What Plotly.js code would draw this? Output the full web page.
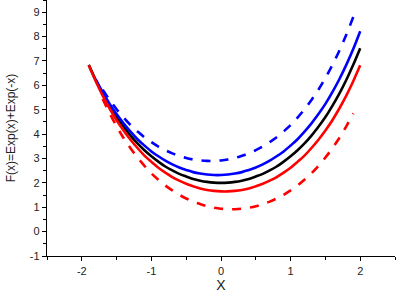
<!DOCTYPE html>
<html>
<head>
<meta charset="utf-8">
<script src="https://cdn.plot.ly/plotly-3.0.1.min.js"></script>
<style>html,body{margin:0;padding:0;background:#fff;}#chart{width:396px;height:293px;}</style>
</head>
<body>
<div id="chart"></div>
<script>
// Black solid: F(x)=Exp(x)+Exp(-x)
const xBlack = [-1.9,-1.8,-1.7,-1.6,-1.5,-1.4,-1.3,-1.2,-1.1,-1.0,-0.9,-0.8,-0.7,-0.6,-0.5,-0.4,-0.3,-0.2,-0.1,0.0,0.1,0.2,0.3,0.4,0.5,0.6,0.7,0.8,0.9,1.0,1.1,1.2,1.3,1.4,1.5,1.6,1.7,1.8,1.9,2.0];
const yBlack = [6.84,6.22,5.66,5.16,4.70,4.30,3.94,3.62,3.34,3.09,2.87,2.67,2.51,2.37,2.26,2.16,2.09,2.04,2.01,2.00,2.01,2.04,2.09,2.16,2.26,2.37,2.51,2.67,2.87,3.09,3.34,3.62,3.94,4.30,4.70,5.16,5.66,6.22,6.84,7.52];
// Red solid
const xRed = [-1.9,-1.8,-1.7,-1.6,-1.5,-1.4,-1.3,-1.2,-1.1,-1.0,-0.9,-0.8,-0.7,-0.6,-0.5,-0.4,-0.3,-0.2,-0.1,0.0,0.1,0.2,0.3,0.4,0.5,0.6,0.7,0.8,0.9,1.0,1.1,1.2,1.3,1.4,1.5,1.6,1.7,1.8,1.9,2.0];
const yRed = [6.82,6.17,5.58,5.05,4.57,4.15,3.77,3.43,3.12,2.86,2.62,2.42,2.24,2.09,1.96,1.86,1.77,1.71,1.67,1.65,1.65,1.67,1.71,1.77,1.86,1.96,2.09,2.24,2.42,2.62,2.86,3.12,3.43,3.77,4.15,4.57,5.05,5.58,6.17,6.82];
// Blue solid
const xBlue = [-1.8,-1.7,-1.6,-1.5,-1.4,-1.3,-1.2,-1.1,-1.0,-0.9,-0.8,-0.7,-0.6,-0.5,-0.4,-0.3,-0.2,-0.1,0.0,0.1,0.2,0.3,0.4,0.5,0.6,0.7,0.8,0.9,1.0,1.1,1.2,1.3,1.4,1.5,1.6,1.7,1.8,1.9,2.0];
const yBlue = [6.25,5.72,5.24,4.82,4.44,4.10,3.79,3.53,3.29,3.09,2.91,2.76,2.63,2.53,2.44,2.38,2.34,2.32,2.32,2.34,2.38,2.44,2.53,2.63,2.76,2.91,3.09,3.29,3.53,3.79,4.10,4.44,4.82,5.24,5.72,6.25,6.84,7.49,8.22];
// Blue dashed
const xBlueDash = [-1.7,-1.6,-1.5,-1.4,-1.3,-1.2,-1.1,-1.0,-0.9,-0.8,-0.7,-0.6,-0.5,-0.4,-0.3,-0.2,-0.1,0.0,0.1,0.2,0.3,0.4,0.5,0.6,0.7,0.8,0.9,1.0,1.1,1.2,1.3,1.4,1.5,1.6,1.7,1.8,1.9];
const yBlueDash = [5.82,5.40,5.02,4.68,4.37,4.11,3.87,3.67,3.49,3.34,3.21,3.11,3.02,2.96,2.92,2.90,2.90,2.92,2.96,3.02,3.11,3.21,3.34,3.49,3.67,3.87,4.11,4.37,4.68,5.02,5.40,5.82,6.30,6.83,7.42,8.07,8.80];
// Red dashed
const xRedDash = [-1.7,-1.6,-1.5,-1.4,-1.3,-1.2,-1.1,-1.0,-0.9,-0.8,-0.7,-0.6,-0.5,-0.4,-0.3,-0.2,-0.1,0.0,0.1,0.2,0.3,0.4,0.5,0.6,0.7,0.8,0.9,1.0,1.1,1.2,1.3,1.4,1.5,1.6,1.7,1.8,1.9];
const yRedDash = [5.44,4.85,4.32,3.84,3.42,3.04,2.70,2.39,2.13,1.89,1.69,1.51,1.36,1.23,1.13,1.04,0.98,0.94,0.92,0.92,0.94,0.98,1.04,1.13,1.23,1.36,1.51,1.69,1.89,2.13,2.39,2.70,3.04,3.42,3.84,4.32,4.85];

const xTicks = [-2,-1,0,1,2];
const yTicks = [-1,0,1,2,3,4,5,6,7,8,9];

function tr(x, y, color, dash) {
  return {x: x, y: y, type: 'scatter', mode: 'lines', line: {color: color, width: 2.6, dash: dash, shape: 'spline'}, hoverinfo: 'skip'};
}

const data = [
  tr(xBlack, yBlack, '#000000', 'solid'),
  tr(xBlue, yBlue, '#0000ff', 'solid'),
  tr(xRed, yRed, '#ff0000', 'solid'),
  tr(xBlueDash, yBlueDash, '#0000ff', 'dash'),
  tr(xRedDash, yRedDash, '#ff0000', 'dash')
];

const fontFam = 'Liberation Sans, Arial, sans-serif';
const layout = {
  width: 396, height: 293,
  margin: {l: 47, r: 1, t: 0, b: 37},
  paper_bgcolor: '#fff', plot_bgcolor: '#fff',
  showlegend: false,
  font: {family: fontFam, color: '#000', size: 11},
  xaxis: {
    range: [-2.5, 2.5], tickvals: xTicks, ticktext: xTicks.map(String),
    showgrid: false, zeroline: false, showline: true, linecolor: '#000', linewidth: 1.3,
    ticks: 'outside', ticklen: 4, tickwidth: 1, tickcolor: '#000',
    minor: {dtick: 0.5, tick0: 0, ticks: 'outside', ticklen: 2.5, tickwidth: 1, tickcolor: '#000', showgrid: false},
    tickfont: {size: 11, family: fontFam, color: '#222'},
    title: {text: 'X', font: {size: 14, family: fontFam, color: '#222'}, standoff: 4},
    automargin: false, fixedrange: true
  },
  yaxis: {
    range: [-1, 9.5], tickvals: yTicks, ticktext: yTicks.map(String),
    showgrid: false, zeroline: false, showline: true, linecolor: '#000', linewidth: 1.3,
    ticks: 'outside', ticklen: 4, tickwidth: 1, tickcolor: '#000',
    minor: {dtick: 0.5, tick0: 0, ticks: 'outside', ticklen: 2.5, tickwidth: 1, tickcolor: '#000', showgrid: false},
    tickfont: {size: 11, family: fontFam, color: '#222'},
    title: {text: 'F(x)=Exp(x)+Exp(-x)', font: {size: 12, family: fontFam, color: '#222'}, standoff: 11},
    automargin: false, fixedrange: true
  }
};

Plotly.newPlot('chart', data, layout, {staticPlot: true, displayModeBar: false});
</script>
</body>
</html>
